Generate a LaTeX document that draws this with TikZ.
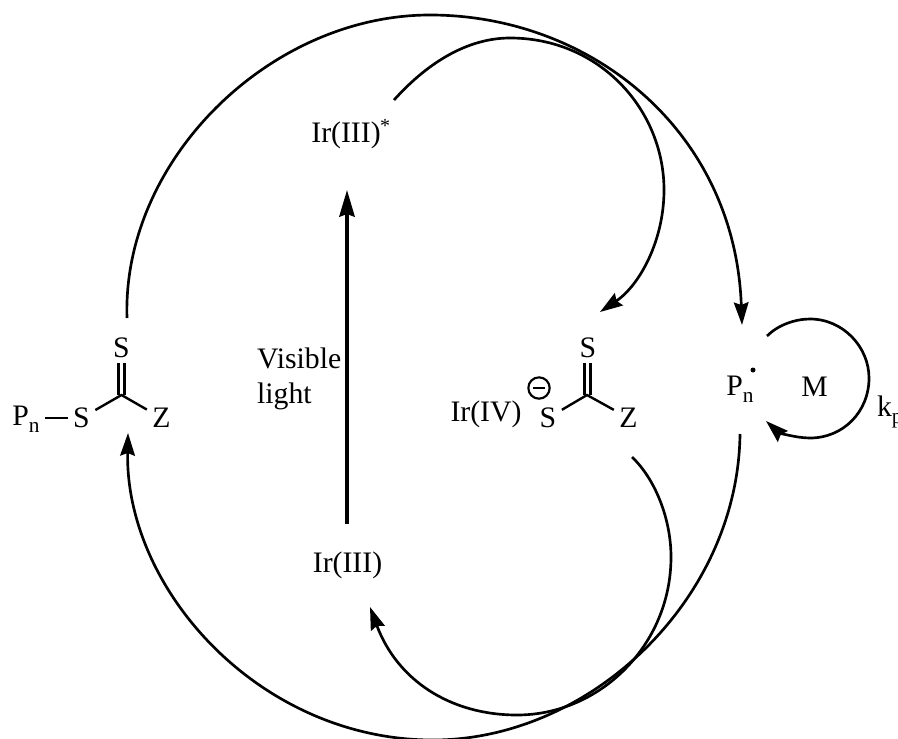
\documentclass[tikz,border=0pt]{standalone}
\usepackage{fontspec}
\setmainfont{Liberation Serif}
\usetikzlibrary{arrows.meta}
\newcommand{\lowtext}[1]{\raisebox{-5pt}{\fontsize{16}{16}\selectfont #1}}
\tikzset{
  chem/.style={inner sep=4pt, font=\fontsize{22.3}{25}\selectfont},
  cycle/.style={line width=2pt, -{Stealth[length=17pt,width=11pt,inset=2pt]}},
  bond/.style={line width=1.8pt}
}
\begin{document}
\begin{tikzpicture}[x=0.75pt,y=-0.75pt]%
  \useasboundingbox (0,0) rectangle (898,738);
  % left dithioester
  \node[chem] (pna) at (26,419.5) {P\lowtext{n}};
  \node[chem] (sa) at (81.5,418) {S};
  \node[chem] (za) at (161.5,418) {Z};
  \node[chem] (sb) at (121.5,348) {S};
  \coordinate (ca) at (121.5,395);
  \draw[bond] (pna.east |- sa) -- (sa);
  \draw[bond] (sa) -- (ca) -- (za);
  \draw[bond] (118.5,363) -- (118.5,394.5);
  \draw[bond] (124.5,363) -- (124.5,394.5);
  % iridium labels
  \node[chem] (irstar) at (346,135) {Ir(III)};
  \node[chem, font=\fontsize{15}{15}\selectfont] (star) at (385,126) {*};
  \node[chem] (irthree) at (347.5,565.5) {Ir(III)};
  \node[chem, anchor=west] (vis) at (251.5,358.5) {Visible};
  \node[chem, anchor=west] (lig) at (251.5,396) {light};
  \coordinate (irup) at (347,190);
  \coordinate (irlow) at (347,524);
  \draw[line width=2.6pt, -{Stealth[length=20pt,width=11.5pt,inset=2pt]}] (irlow) -- (irup);
  % anion
  \node[chem] (irfour) at (486,414.5) {Ir(IV)};
  \node[chem] (sc) at (548,418) {S};
  \node[chem] (zb) at (628.5,418) {Z};
  \node[chem] (sd) at (588,348) {S};
  \coordinate (cb) at (587,395);
  \draw[bond] (sc) -- (cb) -- (zb);
  \draw[bond] (584.5,363) -- (584.5,395);
  \draw[bond] (590.5,363) -- (590.5,395);
  \node[draw, circle, line width=1.6pt, minimum size=16pt, inner sep=0pt] (neg) at (539,388) {};
  \draw[line width=2.2pt] (533,388) -- (545,388);
  % radical
  \node[chem] (pnb) at (740,389.5) {P\lowtext{n}};
  \fill (753,370) circle (2.5);
  \node[chem] (mon) at (814.5,387) {M};
  \node[chem, anchor=west] (kp) at (871.5,412) {k\lowtext{p}};
  % curved arrows
  \coordinate (topl) at (127,318);
  \coordinate (topr) at (742,325);
  \draw[cycle] (topl) .. controls (122,160) and (270,15) .. (430,15)
    .. controls (590,15) and (735,130) .. (topr);
  \coordinate (inl) at (394,100);
  \coordinate (inr) at (600,312);
  \draw[cycle] (inl) .. controls (430,60) and (470,38) .. (510,38)
    .. controls (600,38) and (664,110) .. (664,190)
    .. controls (664,240) and (640,285) .. (inr);
  \coordinate (botr) at (740,434);
  \coordinate (botl) at (128,433);
  \draw[cycle] (botr) .. controls (738,600) and (590,740) .. (433,740)
    .. controls (260,740) and (125,590) .. (botl);
  \coordinate (lowr) at (632,457);
  \coordinate (lowl) at (370,607);
  \draw[cycle] (lowr) .. controls (656,480) and (671,520) .. (671,557)
    .. controls (671,645) and (600,715) .. (517,715)
    .. controls (450,715) and (397,680) .. (lowl);
  \coordinate (mstart) at (767,336);
  \coordinate (mend) at (766,421);
  \draw[cycle] (mstart) .. controls (778,325) and (795,319) .. (810,319)
    .. controls (843,319) and (869,347) .. (869,378)
    .. controls (869,412) and (843,438) .. (810,438)
    .. controls (795,438) and (778,432) .. (mend);
\end{tikzpicture}
\end{document}
